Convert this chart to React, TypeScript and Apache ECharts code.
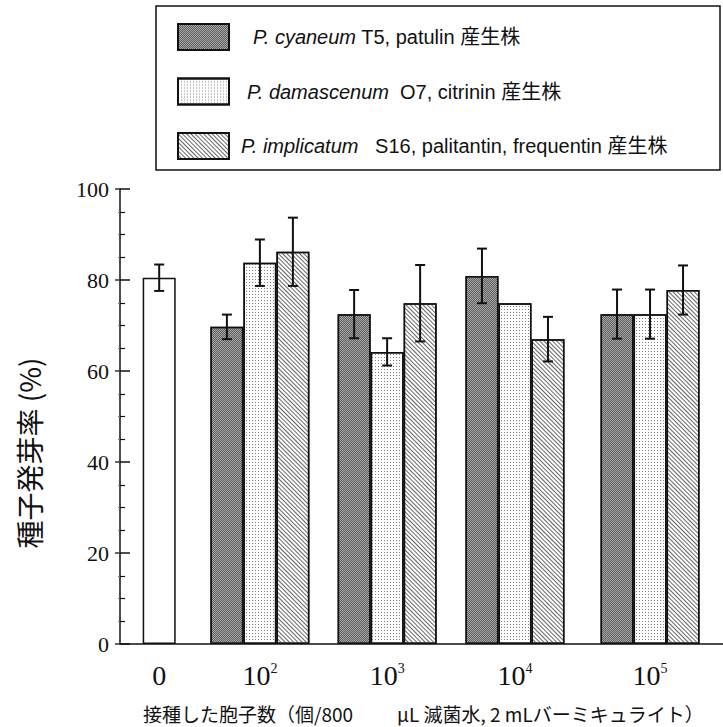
import React, { useEffect, useRef } from "react";
import * as echarts from "echarts";

// ---- data ----
const doseLabels = ["0", "10^2", "10^3", "10^4", "10^5"];
// positions of the dose groups along the (unevenly spaced) horizontal axis, 0–100 scale
const dosePositions = [6.5, 23.2, 44.3, 65.5, 87.9];

const speciesNames = ["P. cyaneum", "P. damascenum", "P. implicatum"];
const strainInfo = ["T5, patulin 産生株", "O7, citrinin 産生株", "S16, palitantin, frequentin 産生株"];
const speciesGap = [" ", "  ", "   "];

const controlValue = 80.5;
const controlErr = 2.9;

const cyaneumValues = [69.7, 72.5, 80.9, 72.5];
const cyaneumErr = [2.7, 5.3, 6.0, 5.4];
const damascenumValues = [83.8, 64.2, 74.9, 72.5];
const damascenumErr = [5.1, 3.0, 0, 5.4];
const implicatumValues = [86.2, 74.9, 67.0, 77.8];
const implicatumErr = [7.5, 8.4, 4.9, 5.4];

const yTicks = [0, 20, 40, 60, 80, 100];

// ---- styles ----
const BAR_W = 33;
const INK = "#111";
const SERIF = "'Liberation Serif', 'Times New Roman', serif";
const SANS = "'Liberation Sans', Arial, 'Noto Sans CJK JP', sans-serif";
const CJK = "'Noto Sans CJK JP', sans-serif";

export default function App() {
  const ref = useRef<HTMLDivElement>(null);

  useEffect(() => {
    if (!ref.current) return;
    const chart = echarts.init(ref.current, null, { renderer: "svg" });

    const seriesNames = speciesNames.map((s, i) => s + speciesGap[i] + strainInfo[i]);
    const groupX = dosePositions.slice(1);
    const valueSets = [cyaneumValues, damascenumValues, implicatumValues];
    const errSets = [cyaneumErr, damascenumErr, implicatumErr];

    const decals: any[] = [
      {
        symbol: "rect",
        symbolSize: 1,
        color: "#5e5e5e",
        dashArrayX: [[1, 1], [0, 1, 1, 0]],
        dashArrayY: [1, 0],
      },
      {
        symbol: "rect",
        symbolSize: 1,
        color: "#808080",
        dashArrayX: [1, 2],
        dashArrayY: [1, 2],
      },
      {
        symbol: "rect",
        symbolSize: 1,
        color: "#666",
        dashArrayX: [1, 0],
        dashArrayY: [1, 2],
        rotation: Math.PI / 4,
      },
    ];
    const fills = ["#a8a8a8", "#ffffff", "#ffffff"];

    const barSeries = valueSets.map((vals, si) => ({
      type: "bar",
      name: seriesNames[si],
      xAxisIndex: 0,
      yAxisIndex: 0,
      barWidth: BAR_W,
      barGap: "0%",
      data: vals.map((v, i) => [groupX[i], v]),
      itemStyle: {
        color: fills[si],
        borderColor: INK,
        borderWidth: 1.5,
        decal: decals[si],
      },
      emphasis: { disabled: true },
    }));

    const controlSeries = {
      type: "bar",
      name: "control",
      xAxisIndex: 1,
      yAxisIndex: 0,
      barWidth: BAR_W,
      data: [[dosePositions[0], controlValue]],
      itemStyle: { color: "#fff", borderColor: INK, borderWidth: 1.5 },
      emphasis: { disabled: true },
    };

    // error bar items: [x, value, err, slot]
    const errData: number[][] = [[dosePositions[0], controlValue, controlErr, 0]];
    valueSets.forEach((vals, si) => {
      vals.forEach((v, i) => errData.push([groupX[i], v, errSets[si][i], si - 1]));
    });

    const errorSeries = {
      type: "custom",
      name: "error",
      xAxisIndex: 0,
      yAxisIndex: 0,
      z: 10,
      encode: { x: 0, y: 1 },
      data: errData,
      renderItem: (_params: any, api: any) => {
        const x = api.value(0);
        const v = api.value(1);
        const e = api.value(2);
        const slot = api.value(3);
        if (!e) return null;
        const top = api.coord([x, v + e]);
        const bot = api.coord([x, v - e]);
        const px = top[0] + slot * BAR_W;
        const cap = 5;
        const st = { stroke: INK, lineWidth: 2 };
        return {
          type: "group",
          children: [
            { type: "line", shape: { x1: px, y1: top[1], x2: px, y2: bot[1] }, style: st },
            { type: "line", shape: { x1: px - cap, y1: top[1], x2: px + cap, y2: top[1] }, style: st },
            { type: "line", shape: { x1: px - cap, y1: bot[1], x2: px + cap, y2: bot[1] }, style: st },
          ],
        };
      },
    };

    const labelFor = (val: number) => {
      const idx = dosePositions.findIndex((p) => Math.abs(p - val) < 0.01);
      if (idx < 0) return "";
      const lab = doseLabels[idx];
      const parts = lab.split("^");
      return parts.length === 2 ? `{b|${parts[0]}}{sup|${parts[1]}}` : `{b|${lab}}`;
    };

    const option: any = {
      animation: false,
      grid: { left: 120, right: 0, top: 189, bottom: 83 },
      legend: {
        orient: "vertical",
        left: 172,
        top: 18,
        itemWidth: 51,
        itemHeight: 26,
        itemGap: 26.5,
        icon: "rect",
        selectedMode: false,
        data: [
          { name: seriesNames[0], textStyle: { padding: [0, 0, 0, 19] } },
          { name: seriesNames[1], textStyle: { padding: [0, 0, 0, 13] } },
          { name: seriesNames[2], textStyle: { padding: [0, 0, 0, 7] } },
        ],
        formatter: (name: string) => {
          const i = seriesNames.indexOf(name);
          return `{i|${speciesNames[i]}}{t|${speciesGap[i]}${strainInfo[i]}}`;
        },
        textStyle: {
          fontFamily: SANS,
          fontSize: 20,
          color: INK,
          rich: {
            i: { fontFamily: SANS, fontSize: 20, fontStyle: "italic", color: INK },
            t: { fontFamily: SANS, fontSize: 20, color: INK },
          },
        },
      },
      xAxis: [
        {
          type: "value",
          min: 0,
          max: 100,
          position: "bottom",
          axisLine: { show: true, lineStyle: { color: INK, width: 1.5 } },
          axisTick: { show: false },
          splitLine: { show: false },
          axisLabel: {
            customValues: dosePositions,
            formatter: labelFor,
            margin: 17,
            fontFamily: SERIF,
            fontSize: 28,
            color: INK,
            rich: {
              b: { fontFamily: SERIF, fontSize: 28, color: INK },
              sup: { fontFamily: SERIF, fontSize: 14, color: INK, verticalAlign: "top" },
            },
          },
        },
        {
          type: "value",
          min: 0,
          max: 100,
          show: false,
          gridIndex: 0,
        },
      ],
      yAxis: [
        {
          type: "value",
          min: 0,
          max: 100,
          interval: 20,
          position: "left",
          axisLine: { show: true, lineStyle: { color: INK, width: 1.5 } },
          axisTick: { show: true, inside: true, length: 10, lineStyle: { color: INK, width: 1.5 } },
          minorTick: { show: true, splitNumber: 4, length: 5, lineStyle: { color: INK, width: 1.2 } },
          splitLine: { show: false },
          axisLabel: {
            margin: 11,
            fontFamily: SERIF,
            fontSize: 22,
            color: INK,
            formatter: (v: number) => (yTicks.indexOf(v) >= 0 ? String(v) : ""),
          },
        },
        {
          type: "value",
          min: 0,
          max: 100,
          interval: 20,
          position: "right",
          axisLine: { show: false },
          axisTick: { show: true, inside: true, length: 5, lineStyle: { color: "#333", width: 1.5 } },
          minorTick: { show: true, splitNumber: 4, length: 2, lineStyle: { color: "#777", width: 1 } },
          splitLine: { show: false },
          axisLabel: { show: false },
        },
      ],
      series: [controlSeries, ...barSeries, errorSeries],
      graphic: [
        {
          type: "rect",
          shape: { x: 156, y: 6, width: 564, height: 164 },
          style: { fill: "none", stroke: INK, lineWidth: 1.5 },
          z: -1,
        },
        {
          type: "text",
          x: 29,
          y: 453,
          rotation: Math.PI / 2,
          style: {
            text: "種子発芽率 (%)",
            fontFamily: CJK,
            fontSize: 28,
            fill: INK,
            align: "center",
            verticalAlign: "middle",
          },
        },
        {
          type: "text",
          x: 143,
          y: 713,
          style: {
            text: "接種した胞子数（個/800",
            fontFamily: CJK,
            fontSize: 19,
            fill: INK,
            align: "left",
            verticalAlign: "middle",
          },
        },
        {
          type: "text",
          x: 397,
          y: 713,
          style: {
            text: "μL 滅菌水, 2 mLバーミキュライト）",
            fontFamily: CJK,
            fontSize: 19,
            fill: INK,
            align: "left",
            verticalAlign: "middle",
          },
        },
      ],
    };

    chart.setOption(option);
    return () => chart.dispose();
  }, []);

  return (
    <div
      ref={ref}
      style={{ position: "absolute", left: 0, top: 0, width: 723, height: 727, background: "#fff" }}
    />
  );
}
